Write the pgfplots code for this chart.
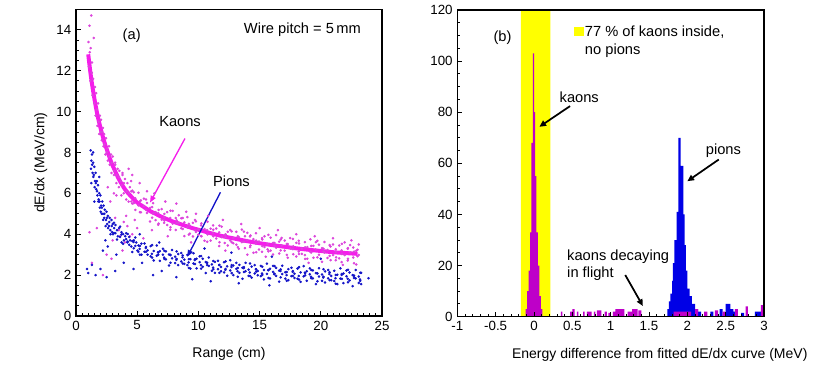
\documentclass[border=0pt]{standalone}
\usepackage{fontspec}
\setmainfont{Liberation Sans}
\usepackage{pgfplots}
\pgfplotsset{compat=1.18}
\usetikzlibrary{arrows.meta}

\definecolor{kaoncurve}{RGB}{245,30,235}
\definecolor{kaondot}{RGB}{220,70,220}
\definecolor{piondot}{RGB}{20,20,200}
\definecolor{kaonhist}{RGB}{190,0,200}
\definecolor{pionhist}{RGB}{0,0,230}
\definecolor{band}{RGB}{255,255,0}

\tikzset{note/.style={font=\fontsize{11}{13}\selectfont}}
\pgfplotsset{
  rootstyle/.style={
    scale only axis,
    axis line style={line width=0.8pt},
    tick align=inside,
    tick pos=left,
    major tick length=3.5pt,
    minor tick length=2pt,
    every tick/.style={black, line width=0.6pt},
    /pgf/number format/assume math mode=true,
    tick label style={font=\fontsize{10}{11}\selectfont},
    label style={font=\fontsize{10.5}{12}\selectfont},
    clip=false,
  },
  dots/.style={only marks, mark=*, mark size=0.75pt, mark options={draw=none}},
}

\begin{document}
\begin{tikzpicture}
\useasboundingbox (0,0) rectangle (622.5pt,282pt);

% ---------------- (a) dE/dx versus range
\begin{axis}[rootstyle,
  at={(57pt,45pt)}, anchor=south west,
  width=229.5pt, height=230pt,
  xmin=0, xmax=25, ymin=0, ymax=15,
  xtick={0,5,...,25}, ytick={0,2,...,14},
  minor x tick num=9, minor y tick num=3,
  xlabel={Range (cm)}, ylabel={dE/dx (MeV/cm)},
  xlabel style={yshift=-6pt},
]
% kaons
\addplot[dots, kaondot] coordinates {
(1.02,13.4) (1.05,12.2) (1.1,14.2) (1.12,12.9) (1.18,11.5) (1.2,13.1) (1.25,14.7) (1.28,11.9)
(1.3,12.4) (1.35,10.8) (1.4,11.6) (1.45,13.6) (1.5,10.4) (1.55,11.2) (1.6,9.8) (1.65,10.9)
(1.7,10.1) (1.75,9.3) (1.8,10.4) (1.85,9.5) (1.9,8.9) (1.95,9.8) (2.0,9.0) (2.05,9.6)
(2.1,8.6) (2.2,9.2) (2.25,8.3) (2.3,8.9) (2.4,7.9) (2.45,8.7) (2.55,8.2) (2.6,7.6)
(2.7,8.3) (2.75,7.4) (2.85,7.9) (2.9,7.0) (3.0,7.8) (3.1,6.9) (3.2,7.4) (3.3,6.5)
(3.4,7.2) (3.5,6.3) (3.55,7.1) (3.65,6.6) (3.7,5.9) (3.8,6.9) (3.9,6.0) (4.0,6.7)
(4.1,5.7) (4.2,6.5) (4.3,5.6) (4.4,6.3) (4.5,6.6)
(2.12,9.0) (2.32,8.4) (2.52,8.0) (2.72,7.8) (2.92,7.5) (3.12,7.1) (3.32,6.9) (3.52,6.8)
(3.72,6.4) (3.92,6.5) (4.12,6.1) (4.32,6.0) (4.52,5.6) (4.52,6.1)
(4.6,6.13) (4.6,5.50) (4.85,5.76) (4.85,5.19) (5.1,6.03) (5.1,5.41) (5.3,5.65) (5.3,5.07)
(5.55,5.38) (5.55,5.74) (5.8,5.04) (5.8,5.53) (6.05,4.62) (6.05,5.29) (6.3,5.01) (6.3,5.52)
(6.5,4.69) (6.5,5.08) (6.75,4.52) (6.75,5.19) (7.0,4.71) (7.0,5.23) (7.2,4.56) (7.2,4.82)
(7.45,5.08) (7.45,4.45) (7.7,4.79) (7.7,4.22) (7.9,5.14) (7.9,4.52) (8.15,4.79) (8.15,4.21)
(8.4,4.57) (8.4,4.93) (8.6,4.29) (8.6,4.78) (8.85,3.91) (8.85,4.58) (9.1,4.33) (9.1,4.84)
(9.3,4.03) (9.3,4.42) (9.55,3.89) (9.55,4.56) (9.8,4.11) (9.8,4.63) (10.0,3.98) (10.0,4.24)
(10.25,4.53) (10.25,3.90) (10.5,4.25) (10.5,3.68) (10.75,4.61) (10.75,3.99) (11.0,4.27) (11.0,3.69)
(11.2,4.07) (11.2,4.43) (11.45,3.79) (11.45,4.28) (11.7,3.42) (11.7,4.09) (11.9,3.86) (11.9,4.37)
(12.15,3.57) (12.15,3.96) (12.4,3.45) (12.4,4.12) (12.6,3.69) (12.6,4.21) (12.85,3.56) (12.85,3.82)
(13.1,4.12) (13.1,3.49) (13.3,3.86) (13.3,3.29) (13.55,4.23) (13.55,3.61) (13.8,3.90) (13.8,3.32)
(14.0,3.71) (14.0,4.07) (14.25,3.45) (14.25,3.94) (14.5,3.09) (14.5,3.76) (14.7,3.54) (14.7,4.05)
(14.95,3.25) (14.95,3.64) (15.2,3.14) (15.2,3.81) (15.4,3.38) (15.4,3.90) (15.65,3.26) (15.65,3.52)
(15.9,3.83) (15.9,3.20) (16.1,3.58) (16.1,3.01) (16.35,3.96) (16.35,3.34) (16.6,3.64) (16.6,3.06)
(16.8,3.46) (16.8,3.82) (17.05,3.20) (17.05,3.69) (17.3,2.85) (17.3,3.52) (17.5,3.30) (17.5,3.81)
(17.75,3.02) (17.75,3.41) (18.0,2.91) (18.0,3.58) (18.2,3.16) (18.2,3.68) (18.45,3.04) (18.45,3.30)
(18.7,3.61) (18.7,2.98) (18.9,3.37) (18.9,2.80) (19.15,3.75) (19.15,3.13) (19.4,3.43) (19.4,2.85)
(19.6,3.25) (19.6,3.61) (19.85,3.00) (19.85,3.49) (20.1,2.65) (20.1,3.32) (20.3,3.11) (20.3,3.62)
(20.55,2.84) (20.55,3.23) (20.8,2.73) (20.8,3.40) (21.0,2.98) (21.0,3.50) (21.25,2.87) (21.25,3.13)
(21.5,3.45) (21.5,2.82) (21.7,3.21) (21.7,2.64) (21.95,3.60) (21.95,2.98) (22.2,3.29) (22.2,2.71)
(22.4,3.11) (22.4,3.47) (22.65,2.86) (22.65,3.35) (22.9,2.52) (22.9,3.19) (23.1,2.99) (23.1,3.50)
(4.72,5.52) (4.72,6.05) (5.22,5.61) (5.22,5.08) (5.72,5.20) (5.72,5.70) (6.22,5.33) (6.22,4.81)
(6.72,5.03) (6.72,4.46) (7.22,4.67) (7.22,4.99) (7.72,5.15) (7.72,4.34) (8.22,4.54) (8.22,4.68)
(8.72,4.26) (8.72,4.79) (9.22,4.51) (9.22,3.98) (9.72,4.20) (9.72,4.70) (10.22,4.43) (10.22,3.91)
(10.72,4.20) (10.72,3.63) (11.22,3.90) (11.22,4.22) (11.72,4.42) (11.72,3.61) (12.22,3.85) (12.22,3.99)
(12.72,3.61) (12.72,4.14) (13.22,3.90) (13.22,3.37) (13.72,3.63) (13.72,4.13) (14.22,3.89) (14.22,3.37)
(14.72,3.69) (14.72,3.12) (15.22,3.42) (15.22,3.74) (15.72,3.97) (15.72,3.16) (16.22,3.43) (16.22,3.57)
(16.72,3.21) (16.72,3.74) (17.22,3.52) (17.22,2.99) (17.72,3.27) (17.72,3.77) (18.22,3.55) (18.22,3.03)
(18.72,3.36) (18.72,2.79) (19.22,3.11) (19.22,3.43) (19.72,3.68) (19.72,2.87) (20.22,3.15) (20.22,3.29)
(20.72,2.94) (20.72,3.47) (21.22,3.26) (21.22,2.73) (21.72,3.03) (21.72,3.53) (22.22,3.32) (22.22,2.80)
(22.72,3.15) (22.72,2.58) (23.0,2.92) (23.0,3.24)
(1.7,4.3) (2.2,2.0) (2.5,3.0) (2.8,5.6) (3.0,3.7) (3.2,4.8) (3.3,5.9) (3.5,4.2) (3.8,3.2)
(4.0,3.6) (4.2,4.4) (4.4,3.9) (4.6,4.0) (4.8,4.7) (5.0,4.3) (5.5,3.8) (3.6,3.9) (4.1,4.9)
(3.9,4.6) (1.3,2.6) (2.9,2.8) (6.2,4.2) (7.5,3.9) (1.1,4.1) (2.6,6.3) (3.1,6.0)
(3.2,7.5) (3.8,7.0) (4.3,7.2) (4.6,6.9) (5.2,6.5) (5.8,6.1) (6.4,6.0) (7.3,5.6) (8.2,5.5)
(9.0,5.1) (9.8,5.0) (10.8,4.9) (12.0,4.7) (13.5,4.5) (15.0,4.3) (16.5,4.2) (18.0,4.0)
(19.5,3.9) (21.0,3.8) (22.5,3.7) (9.4,3.6) (12.2,3.2) (15.5,2.9) (19,2.6) (21.8,2.5) (14,3.0)
};
% pions
\addplot[dots, piondot] coordinates {
(1.2,8.1) (1.25,7.6) (1.3,7.9) (1.35,7.0) (1.4,7.5) (1.45,6.9) (1.5,7.3) (1.55,6.6)
(1.6,7.0) (1.65,6.2) (1.7,6.6) (1.75,5.9) (1.8,6.4) (1.85,5.7) (1.9,6.0) (1.95,5.3)
(2.0,5.9) (2.05,5.4) (2.1,5.0) (2.15,5.6) (2.2,5.0) (2.25,5.4) (2.3,4.8) (2.35,5.2)
(2.45,4.7) (2.5,5.1) (2.55,4.5) (2.6,4.9) (2.7,4.4) (2.75,4.8) (2.8,4.2) (2.9,4.7)
(2.95,4.1) (3.0,4.5)
(1.22,7.2) (1.32,7.4) (1.42,6.8) (1.52,6.3) (1.62,6.5) (1.72,6.1) (1.82,5.6) (1.92,5.6)
(2.02,5.1) (2.12,5.3) (2.22,4.7) (2.32,5.0) (2.42,4.4) (2.52,4.8) (2.62,4.3) (2.72,4.6)
(2.82,4.0) (2.92,4.4) (3.02,4.0) (3.12,4.3) (3.42,3.9) (3.52,4.3) (3.72,4.1) (3.92,3.7)
(4.02,3.9) (4.42,3.7) (4.52,3.4) (4.92,3.6) (5.02,3.2)
(3.1,4.56) (3.1,4.06) (3.35,4.20) (3.35,3.74) (3.6,4.37) (3.6,3.87) (3.85,4.00) (3.85,3.53)
(4.1,3.76) (4.1,4.05) (4.35,3.48) (4.35,3.87) (4.6,3.13) (4.6,3.67) (4.85,3.43) (4.85,3.84)
(5.1,3.14) (5.1,3.45) (5.35,3.00) (5.35,3.54) (5.6,3.14) (5.6,3.55) (5.85,3.00) (5.85,3.21)
(6.1,3.42) (6.1,2.92) (6.35,3.18) (6.35,2.72) (6.6,3.45) (6.6,2.95) (6.85,3.17) (6.85,2.70)
(7.1,3.00) (7.1,3.29) (7.35,2.77) (7.35,3.16) (7.6,2.47) (7.6,3.01) (7.85,2.82) (7.85,3.23)
(8.1,2.59) (8.1,2.90) (8.35,2.49) (8.35,3.03) (8.6,2.67) (8.6,3.08) (8.85,2.55) (8.85,2.76)
(9.1,2.99) (9.1,2.49) (9.35,2.78) (9.35,2.32) (9.6,3.07) (9.6,2.57) (9.85,2.80) (9.85,2.33)
(10.1,2.63) (10.1,2.92) (10.35,2.41) (10.35,2.80) (10.6,2.10) (10.6,2.64) (10.85,2.45) (10.85,2.86)
(11.1,2.21) (11.1,2.52) (11.35,2.11) (11.35,2.65) (11.6,2.29) (11.6,2.70) (11.85,2.19) (11.85,2.40)
(12.1,2.63) (12.1,2.13) (12.35,2.43) (12.35,1.97) (12.6,2.73) (12.6,2.23) (12.85,2.47) (12.85,2.00)
(13.1,2.31) (13.1,2.60) (13.35,2.11) (13.35,2.50) (13.6,1.82) (13.6,2.36) (13.85,2.19) (13.85,2.60)
(14.1,1.96) (14.1,2.27) (14.35,1.88) (14.35,2.42) (14.6,2.08) (14.6,2.49) (14.85,1.99) (14.85,2.20)
(15.1,2.45) (15.1,1.95) (15.35,2.25) (15.35,1.79) (15.6,2.56) (15.6,2.06) (15.85,2.31) (15.85,1.84)
(16.1,2.16) (16.1,2.45) (16.35,1.96) (16.35,2.35) (16.6,1.68) (16.6,2.22) (16.85,2.05) (16.85,2.46)
(17.1,1.83) (17.1,2.14) (17.35,1.75) (17.35,2.29) (17.6,1.95) (17.6,2.36) (17.85,1.86) (17.85,2.07)
(18.1,2.32) (18.1,1.82) (18.35,2.13) (18.35,1.67) (18.6,2.44) (18.6,1.94) (18.85,2.19) (18.85,1.72)
(19.1,2.04) (19.1,2.33) (19.35,1.84) (19.35,2.23) (19.6,1.56) (19.6,2.10) (19.85,1.93) (19.85,2.34)
(20.1,1.72) (20.1,2.03) (20.35,1.64) (20.35,2.18) (20.6,1.84) (20.6,2.25) (20.85,1.75) (20.85,1.96)
(21.1,2.21) (21.1,1.71) (21.35,2.02) (21.35,1.56) (21.6,2.33) (21.6,1.83) (21.85,2.08) (21.85,1.61)
(22.1,1.94) (22.1,2.23) (22.35,1.74) (22.35,2.13) (22.6,1.46) (22.6,2.00) (22.85,1.84) (22.85,2.25)
(23.1,1.62) (23.1,1.93) (23.3,1.56) (23.3,2.11)
(3.22,4.05) (3.22,4.45) (3.72,3.99) (3.72,3.60) (4.22,3.64) (4.22,4.01) (4.72,3.70) (4.72,3.31)
(5.22,3.43) (5.22,3.00) (5.72,3.14) (5.72,3.38) (6.22,3.47) (6.22,2.86) (6.72,3.00) (6.72,3.11)
(7.22,2.79) (7.22,3.19) (7.72,2.99) (7.72,2.60) (8.22,2.79) (8.22,3.16) (8.72,2.96) (8.72,2.57)
(9.22,2.78) (9.22,2.35) (9.72,2.54) (9.72,2.78) (10.22,2.93) (10.22,2.32) (10.72,2.49) (10.72,2.60)
(11.22,2.29) (11.22,2.69) (11.72,2.50) (11.72,2.11) (12.22,2.30) (12.22,2.67) (12.72,2.49) (12.72,2.10)
(13.22,2.35) (13.22,1.92) (13.72,2.15) (13.72,2.39) (14.22,2.57) (14.22,1.96) (14.72,2.17) (14.72,2.28)
(15.22,2.01) (15.22,2.41) (15.72,2.25) (15.72,1.86) (16.22,2.07) (16.22,2.44) (16.72,2.28) (16.72,1.89)
(17.22,2.15) (17.22,1.72) (17.72,1.96) (17.72,2.20) (18.22,2.39) (18.22,1.78) (18.72,1.99) (18.72,2.10)
(19.22,1.85) (19.22,2.25) (19.72,2.09) (19.72,1.70) (20.22,1.92) (20.22,2.29) (20.72,2.14) (20.72,1.75)
(21.22,2.01) (21.22,1.58) (21.72,1.82) (21.72,2.06) (22.22,2.26) (22.22,1.65) (22.72,1.86) (22.72,1.97)
(23.22,1.72) (23.22,2.12)
(4.2,3.60) (4.7,3.62) (5.2,3.28) (5.7,3.33) (6.2,3.04) (6.7,3.12) (7.2,2.86) (7.7,2.98)
(8.2,2.75) (8.7,2.87) (9.2,2.62) (9.7,2.74) (10.2,2.49) (10.7,2.61) (11.2,2.37) (11.7,2.49)
(12.2,2.26) (12.7,2.40) (13.2,2.19) (13.7,2.34) (14.2,2.13) (14.7,2.29) (15.2,2.08) (15.7,2.24)
(16.2,2.04) (16.7,2.20) (17.2,2.00) (17.7,2.16) (18.2,1.96) (18.7,2.12) (19.2,1.92) (19.7,2.08)
(20.2,1.88) (20.7,2.05) (21.2,1.85) (21.7,2.01) (22.2,1.82) (22.7,1.98) (23.2,1.79)
(0.9,2.3) (1.0,2.1) (1.3,2.5) (1.6,2.0) (2.0,2.3) (2.5,1.9) (3.2,2.2) (2.2,3.2) (2.6,3.4)
(2.4,3.7) (3.3,3.0) (3.9,2.6) (4.7,2.3) (5.4,2.6) (6.3,2.0) (7.0,2.2) (8.2,1.9) (9.5,1.8)
(11.0,1.7) (13.3,1.6) (15.8,1.5) (23.9,1.85) (12.7,3.1) (16.0,2.9) (20.0,2.8) (10.5,3.3)
(6.8,3.6) (5.2,4.0) (1.9,6.8) (1.5,5.6) (1.4,8.0) (1.25,6.5)
};
% fitted kaon curve
\addplot[kaoncurve, line width=3pt, smooth] coordinates {
(1.0,12.8) (1.2,11.8) (1.4,11.0) (1.6,10.3) (1.8,9.7) (2.0,9.2) (2.2,8.75) (2.4,8.35)
(2.6,8.0) (2.8,7.65) (3.0,7.35) (3.5,6.7) (4.0,6.2) (4.5,5.85) (5.0,5.55) (5.5,5.35)
(6.0,5.15) (6.5,5.0) (7.0,4.85) (7.5,4.72) (8.0,4.6) (8.5,4.5) (9.0,4.4) (9.5,4.3)
(10,4.22) (11,4.05) (12,3.9) (13,3.78) (14,3.66) (15,3.56) (16,3.47) (17,3.39)
(18,3.31) (19,3.24) (20,3.18) (21,3.12) (22,3.08) (23,3.04)
};
\draw[kaoncurve, line width=1pt, -{Triangle[length=5pt,width=4pt]}] (axis cs:8.9,8.68) -- (axis cs:6.05,5.55);
\draw[piondot, line width=1pt, -{Triangle[length=5pt,width=4pt]}] (axis cs:11.8,6.05) -- (axis cs:9.1,2.9);
\node[note] at (axis cs:4.55,13.7) {(a)};
\node[note] at (axis cs:18.5,14.0) {Wire pitch = 5\,mm};
\node[note] at (axis cs:8.5,9.5) {Kaons};
\node[note] at (axis cs:12.7,6.6) {Pions};
\end{axis}

% ---------------- (b) energy difference histogram
\begin{axis}[rootstyle,
  at={(343pt,44.5pt)}, anchor=south west,
  width=230pt, height=230pt,
  xmin=-1, xmax=3, ymin=0, ymax=120,
  xtick={-1,-0.5,...,3}, ytick={0,20,...,120},
  minor x tick num=4, minor y tick num=3,
  axis on top,
  xlabel={Energy difference from fitted dE/dx curve (MeV)},
  xlabel style={at={(ticklabel cs:0.66)}, yshift=-6pt},
  legend style={draw=none, fill=none, at={(axis cs:0.47,115.5)}, anchor=north west,
    font=\fontsize{11}{13.5}\selectfont, nodes={align=left, inner sep=1pt}},
  legend image code/.code={\fill[band] (0pt,3.6pt) rectangle (7pt,10.6pt);},
]
\addplot[fill=band, draw=none] coordinates {(-0.17,0) (-0.17,120) (0.215,120) (0.215,0)} \closedcycle;
\addlegendentry{77 \% of kaons inside,\\no pions}
% pions
\addplot[const plot, fill=pionhist, draw=none, forget plot] coordinates {
(1.74,3) (1.76,6) (1.78,9) (1.80,14) (1.81,21) (1.83,30) (1.86,41) (1.883,70)
(1.913,59) (1.948,40) (1.965,28) (1.98,18) (2.0,11) (2.03,8) (2.06,5) (2.1,3) (2.14,0)
} \closedcycle;
\addplot[ybar interval, fill=pionhist, draw=none, forget plot] coordinates {
(2.14,2) (2.18,0) (2.30,2) (2.34,0) (2.42,3) (2.46,0) (2.50,5) (2.56,3) (2.60,2) (2.64,0)
(2.70,1.5) (2.74,0) (2.88,2) (2.97,0)
};
% kaons
\addplot[const plot, fill=kaonhist, draw=none, forget plot] coordinates {
(-0.11,3) (-0.09,10) (-0.07,18) (-0.05,33) (-0.035,68) (-0.015,103) (0.0,80) (0.015,55)
(0.03,33) (0.05,20) (0.07,8) (0.09,3) (0.11,0)
} \closedcycle;
\addplot[ybar interval, fill=kaonhist, draw=none, forget plot] coordinates {
(0.35,2) (0.37,0) (0.47,2) (0.50,3) (0.53,0) (0.56,2) (0.58,0) (0.64,2) (0.66,0)
(0.69,2) (0.75,0) (0.78,2) (0.80,0) (0.82,2.5) (0.88,0) (0.92,2) (0.95,0) (0.97,1.5) (0.99,0)
(1.03,2) (1.06,3) (1.18,0) (1.22,2) (1.28,3) (1.35,0) (1.36,2.5) (1.40,0)
(1.82,2) (2.05,0) (2.10,3) (2.14,0) (2.22,2) (2.26,0) (2.36,2.5) (2.40,0) (2.46,2) (2.50,0)
(2.62,3) (2.66,0) (2.76,4) (2.79,0) (2.96,4.5) (2.99,0)
};
\draw[line width=1.3pt, -{Triangle[length=5pt,width=4.5pt]}] (axis cs:0.47,82.4) -- (axis cs:0.07,74.3);
\draw[line width=1.3pt, -{Triangle[length=5pt,width=4.5pt]}] (axis cs:2.41,61.5) -- (axis cs:2.0,53);
\draw[line width=1.3pt, -{Triangle[length=5pt,width=4.5pt]}] (axis cs:1.19,16.3) -- (axis cs:1.42,4.2);
\node[note] at (axis cs:-0.41,109) {(b)};
\node[note] at (axis cs:0.59,86) {kaons};
\node[note] at (axis cs:2.47,65) {pions};
\node[note, anchor=west, inner sep=0pt] at (axis cs:0.43,23.5) {kaons decaying};
\node[note, anchor=west, inner sep=0pt] at (axis cs:0.43,16.8) {in flight};
\end{axis}
\end{tikzpicture}
\end{document}
